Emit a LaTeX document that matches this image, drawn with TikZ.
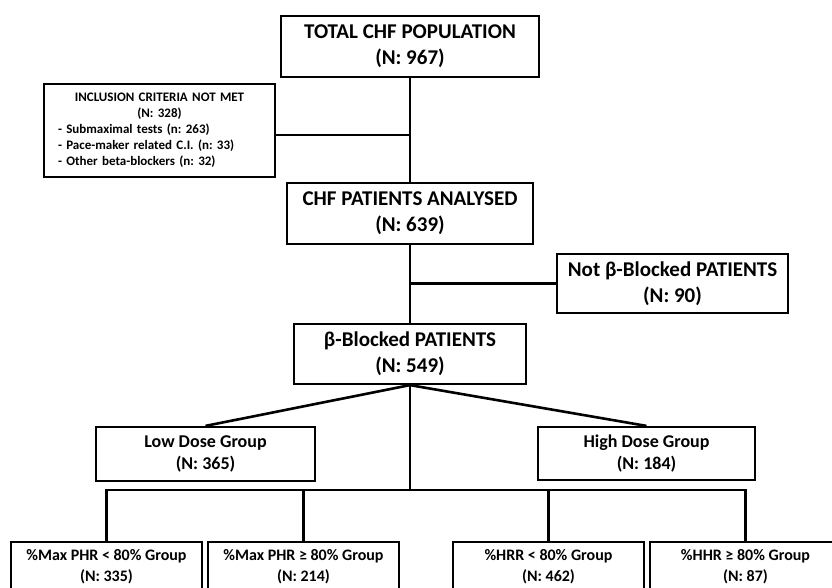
\documentclass[tikz,border=0pt]{standalone}
\usepackage{fontspec}
\setmainfont{Carlito}
\frenchspacing
\tikzset{
    box/.style={draw, line width=2.2pt, inner sep=0pt, align=center},
    bigtext/.style={font=\bfseries\fontsize{21}{26}\selectfont},
    midtext/.style={font=\bfseries\fontsize{18}{22}\selectfont},
    lowtext/.style={font=\bfseries\fontsize{16}{21}\selectfont},
    link/.style={line width=2.6pt}
}
\begin{document}
\begin{tikzpicture}[x=1pt,y=-1pt]
        \useasboundingbox (0,0) rectangle (832,587);
        \clip (0,0) rectangle (832,587);
        %% Upper boxes
        \node[box, bigtext, minimum width=258, minimum height=61] (total) at (410,46.5)
            {TOTAL CHF POPULATION\\(N: 967)};
        \node[box, font=\bfseries\fontsize{13}{16}\selectfont, align=left,
              text width=203, inner xsep=14, minimum height=93] (incl) at (159.5,130.5)
            {{\centering\fontsize{13}{16}\selectfont INCLUSION CRITERIA NOT MET\\(N: 328)\par}
             - Submaximal tests (n: 263)\\
             - Pace-maker related C.I. (n: 33)\\
             - Other beta-blockers (n: 32)};
        \node[box, bigtext, minimum width=246, minimum height=61] (chf) at (410,213.5)
            {CHF PATIENTS ANALYSED\\(N: 639)};
        \node[box, bigtext, minimum width=231, minimum height=59] (notbeta) at (672.5,283.5)
            {Not β-Blocked PATIENTS\\(N: 90)};
        \node[box, bigtext, minimum width=232, minimum height=60] (beta) at (410,354)
            {β-Blocked PATIENTS\\(N: 549)};
        %% Dose groups
        \node[box, midtext, minimum width=219, minimum height=54] (low) at (205.5,454)
            {Low Dose Group\\(N: 365)};
        \node[box, midtext, minimum width=217, minimum height=53] (high) at (646.5,453.5)
            {High Dose Group\\(N: 184)};
        %% Bottom row
        \foreach \name/\x/\txt in {pa/106.5/{\%Max PHR < 80\% Group\\(N: 335)},
                                   pb/303.5/{\%Max PHR ≥ 80\% Group\\(N: 214)},
                                   pc/548.5/{\%HRR < 80\% Group\\(N: 462)},
                                   pd/745.5/{\%HHR ≥ 80\% Group\\(N: 87)}}
            \node[box, lowtext, minimum width=191, minimum height=49] (\name) at (\x,566.5) {\txt};
        \coordinate (bar) at (410,490);
        %% Connectors
        \draw[link] (total) -- (chf);
        \draw[link] ([yshift=-4.5pt]incl.east) -- ([yshift=-4.5pt]incl.east -| total.south);
        \draw[link] (chf) -- (beta);
        \draw[link] (notbeta.west) -- (notbeta.west -| chf.south);
        \draw[link] (beta.south) -- (low.north);
        \draw[link] (beta.south) -- (high.north);
        \draw[link] (beta) -- (bar);
        \draw[link] (pa.north) |- (bar) -| (pd.north);
        \draw[link] (pb.north) -- (pb.north |- bar);
        \draw[link] (pc.north) -- (pc.north |- bar);
    \end{tikzpicture}
\end{document}
